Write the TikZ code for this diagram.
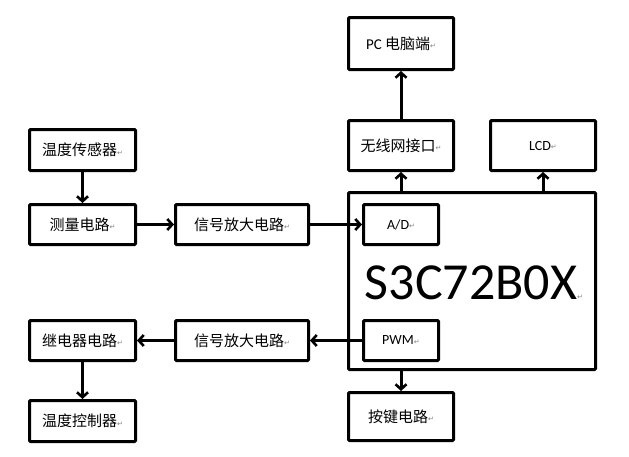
\documentclass[tikz,border=0pt]{standalone}
\usepackage{fontspec}
\setmainfont{Carlito}
\newfontfamily\cjk{Noto Sans CJK SC}
\newfontfamily\dejavu{DejaVu Sans}
\usetikzlibrary{arrows.meta}
\newcommand{\rmark}{{\dejavu\fontsize{7}{8}\selectfont\color{gray}\raisebox{0.5pt}{↵}}}
\tikzset{
  box/.style={draw=black, line width=3pt, rounded corners=1pt, fill=white, inner sep=0pt, font=\cjk\fontsize{15}{18}\selectfont},
  latinbox/.style={box, font=\fontsize{14}{16}\selectfont},
  conn/.style={line width=3pt, -{Straight Barb[length=5pt,width=11pt,line width=2.6pt]}}
}
\begin{document}
\begin{tikzpicture}[x=1pt,y=-1pt]
\useasboundingbox (0,0) rectangle (629,456);
\fill[white] (0,0) rectangle (629,456);
% right column
\node[box, minimum width=105pt, minimum height=52pt] (pc) at (401,43.5) {\fontspec{Carlito}PC \cjk 电脑端\rmark};
\node[box, minimum width=105pt, minimum height=50pt] (wifi) at (401,145.5) {无线网接口\rmark};
\node[latinbox, minimum width=105pt, minimum height=50pt] (lcd) at (543,145.5) {LCD\rmark};
\node[box, minimum width=247pt, minimum height=177pt] (mcu) at (472,281) {};
\node[font=\fontsize{52}{56}\selectfont, inner sep=0pt] (chip) at (474,283) {S3C72B0X\rmark};
\node[latinbox, minimum width=75pt, minimum height=40pt] (ad) at (401,224.5) {A/D\rmark};
\node[latinbox, minimum width=75pt, minimum height=40pt] (pwm) at (401,340.5) {PWM\rmark};
\node[box, minimum width=105pt, minimum height=48pt] (keys) at (401,416.5) {按键电路\rmark};
% left side
\node[box, minimum width=106pt, minimum height=41pt] (sensor) at (82.5,150) {温度传感器\rmark};
\node[box, minimum width=106pt, minimum height=40pt] (meas) at (82.5,224.5) {测量电路\rmark};
\node[box, minimum width=133pt, minimum height=40pt] (amp1) at (242,224.5) {信号放大电路\rmark};
\node[box, minimum width=106pt, minimum height=40pt] (relay) at (82.5,340.5) {继电器电路\rmark};
\node[box, minimum width=133pt, minimum height=40pt] (amp2) at (242,340.5) {信号放大电路\rmark};
\node[box, minimum width=106pt, minimum height=41pt] (ctrl) at (82.5,421) {温度控制器\rmark};
% connectors
\draw[conn] (sensor.south) -- (meas.north);
\draw[conn] (meas.east) -- (amp1.west);
\draw[conn] (amp1.east) -- (ad.west);
\draw[conn] (wifi.south |- mcu.north) -- (wifi.south);
\draw[conn] (wifi.north) -- (pc.south);
\draw[conn] (lcd.south |- mcu.north) -- (lcd.south);
\draw[conn] (keys.north |- mcu.south) -- (keys.north);
\draw[conn] (pwm.west) -- (amp2.east);
\draw[conn] (amp2.west) -- (relay.east);
\draw[conn] (relay.south) -- (ctrl.north);
\end{tikzpicture}
\end{document}
